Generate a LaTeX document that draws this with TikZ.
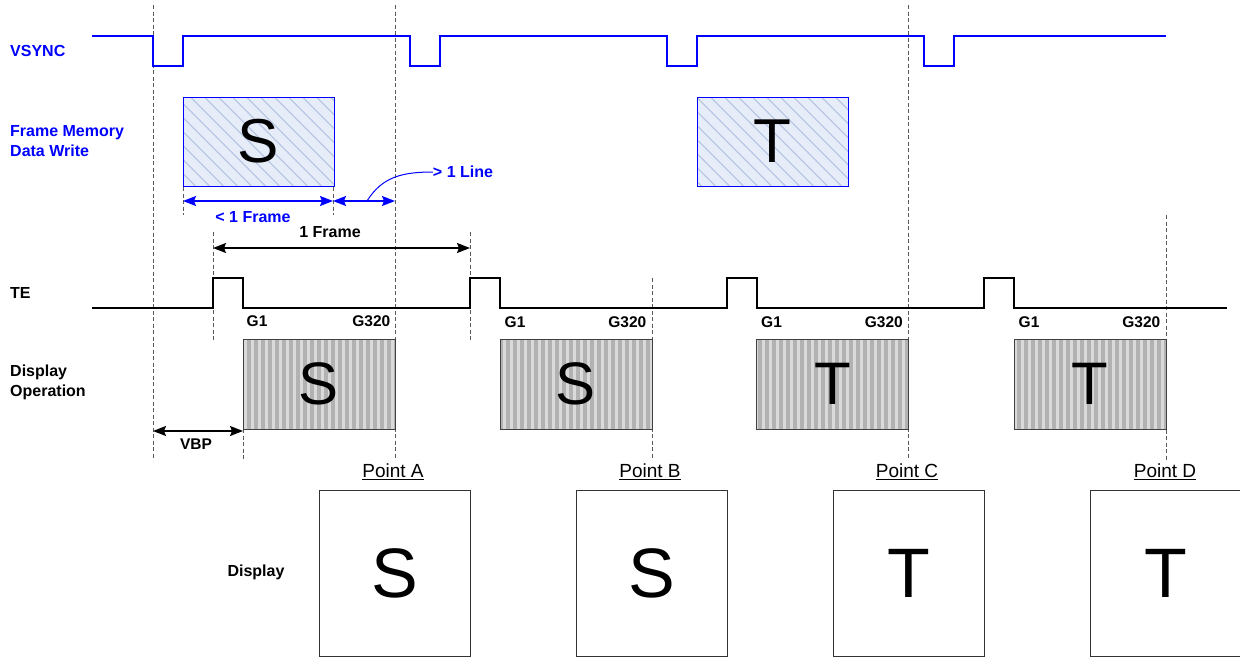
\documentclass[tikz,border=0pt]{standalone}
\usepackage{fontspec}
\setmainfont{Liberation Sans}
\usetikzlibrary{patterns.meta,arrows.meta}
\definecolor{sigblue}{RGB}{0,0,255}
\definecolor{memfill}{RGB}{230,236,248}
\definecolor{memline}{RGB}{188,202,230}
\definecolor{dispfill}{RGB}{178,178,178}
\definecolor{displine}{RGB}{218,218,218}
\begin{document}
\begin{tikzpicture}[x=1pt,y=-1pt,
  sig/.style={line width=2.4pt},
  vs/.style={sig,sigblue},
  guide/.style={dash pattern=on 4pt off 2.5pt,line width=0.8pt,black!65},
  membox/.style={draw=sigblue,line width=1pt,minimum width=151pt,minimum height=89pt,inner sep=0pt,
    preaction={fill=memfill},pattern={Lines[angle=-45,distance=10.5pt,line width=1.4pt]},pattern color=memline,
    font=\fontsize{62}{62}\selectfont},
  dispbox/.style={draw=black!75,line width=1pt,minimum width=152pt,minimum height=90pt,inner sep=0pt,
    preaction={fill=dispfill},pattern={Lines[angle=90,distance=7pt,line width=3pt]},pattern color=displine,
    font=\fontsize{60}{60}\selectfont},
  screen/.style={draw=black!80,line width=1pt,minimum width=151pt,minimum height=166pt,inner sep=0pt,
    font=\fontsize{70}{70}\selectfont},
  lbl/.style={font=\fontsize{16}{20}\selectfont\bfseries,align=left,inner sep=0pt},
  blbl/.style={lbl,text=sigblue},
  glbl/.style={font=\fontsize{15.5}{18}\selectfont\bfseries,inner sep=0pt},
  plbl/.style={font=\fontsize{19}{22}\selectfont,inner sep=0pt},
  barr/.style={sigblue,line width=1.5pt,{Stealth[length=13pt,width=10pt,inset=2pt]}-{Stealth[length=13pt,width=10pt,inset=2pt]}},
  karr/.style={black,line width=1.5pt,{Stealth[length=13pt,width=10pt,inset=2pt]}-{Stealth[length=13pt,width=10pt,inset=2pt]}}
]
\useasboundingbox (0,0) rectangle (1240,657);
\fill[white] (0,0) rectangle (1240,657);

% guide lines
\draw[guide] (153,5) -- (153,460);
\draw[guide] (395,5) -- (395,460);
\draw[guide] (908,5) -- (908,460);
\draw[guide] (652,278) -- (652,460);
\draw[guide] (1166,215) -- (1166,460);
\draw[guide] (213,232) -- (213,340);
\draw[guide] (470,232) -- (470,340);
\draw[guide] (183,187) -- (183,215);
\draw[guide] (333,187) -- (333,215);
\draw[guide] (243,429) -- (243,460);

% signals
\draw[vs] (92,36) -- (153,36) -- (153,66) -- (183,66) -- (183,36) -- (410,36) -- (410,66) -- (440,66) -- (440,36)
  -- (667,36) -- (667,66) -- (697,66) -- (697,36) -- (924,36) -- (924,66) -- (954,66) -- (954,36) -- (1166,36);
\draw[sig] (92,308) -- (213,308) -- (213,278) -- (243,278) -- (243,308) -- (470,308) -- (470,278) -- (500,278) -- (500,308)
  -- (727,308) -- (727,278) -- (757,278) -- (757,308) -- (984,308) -- (984,278) -- (1014,278) -- (1014,308) -- (1227,308);

% row labels
\node[blbl,anchor=west] (lvs) at (10,51) {VSYNC};
\node[blbl,anchor=west] (lfm) at (10,141) {Frame Memory\\Data Write};
\node[lbl,anchor=west] (lte) at (10,293) {TE};
\node[lbl,anchor=west] (ldo) at (10,382) {Display\\Operation};
\node[lbl] (ldi) at (256,572) {Display};

% frame memory
\node[membox] (ms) at (258.5,141.5) {S};
\node[membox] (mt) at (772.5,141.5) {T};

% timing arrows
\coordinate (a1) at (183,201);
\coordinate (a2) at (333,201);
\coordinate (a3) at (395,201);
\draw[barr] (a1) -- (a2);
\draw[barr] (a2) -- (a3);
\node[blbl] (lf1) at (253,217) {< 1 Frame};
\node[blbl] (lln) at (463,172) {> 1 Line};
\coordinate (cm) at (367,201);
\draw[sigblue,line width=1pt] (cm) .. controls (382,177) and (402,172) .. (lln.west);
\coordinate (b1) at (213,248);
\coordinate (b2) at (470,248);
\draw[karr] (b1) -- (b2);
\node[lbl] (lfr) at (330,232) {1 Frame};
\coordinate (v1) at (153,431);
\coordinate (v2) at (243,431);
\draw[karr] (v1) -- (v2);
\node[glbl] (lvbp) at (196,444) {VBP};

% display operation
\node[dispbox] (d1) at (319,384) {S};
\node[dispbox] (d2) at (576,384) {S};
\node[dispbox] (d3) at (832.5,384) {T};
\node[dispbox] (d4) at (1090,384) {T};
\foreach \d in {d1,d2,d3,d4}{
  \node[glbl,anchor=west] at ([xshift=5pt,yshift=16pt]\d.north west) {G1};
  \node[glbl,anchor=east] at ([xshift=-6pt,yshift=16pt]\d.north east) {G320};
}

% display screens
\node[screen] (s1) at (394.5,573) {S};
\node[screen] (s2) at (651.5,573) {S};
\node[screen] (s3) at (909,573) {T};
\node[screen] (s4) at (1165.5,573) {T};
\node[plbl] (pa) at (393,472) {\underline{Point A}};
\node[plbl] (pb) at (650,472) {\underline{Point B}};
\node[plbl] (pc) at (907,472) {\underline{Point C}};
\node[plbl] (pd) at (1165,472) {\underline{Point D}};
\end{tikzpicture}
\end{document}
